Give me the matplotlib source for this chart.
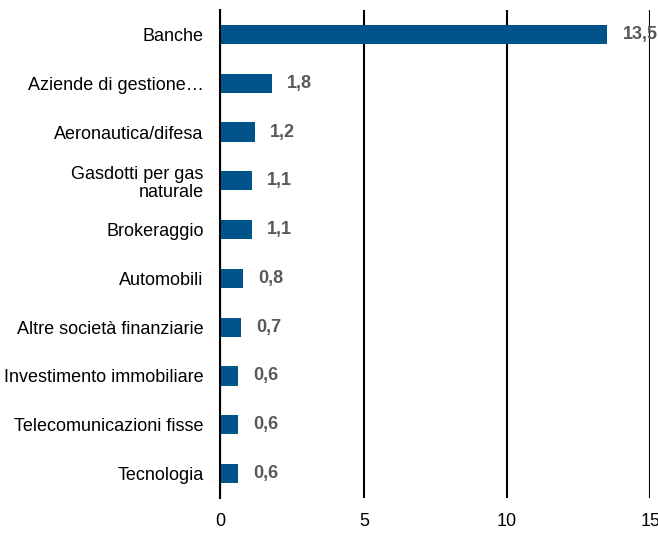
import matplotlib.pyplot as plt

# Data
categories = [
    "Banche",
    "Aziende di gestione…",
    "Aeronautica/difesa",
    "Gasdotti per gas\nnaturale",
    "Brokeraggio",
    "Automobili",
    "Altre società finanziarie",
    "Investimento immobiliare",
    "Telecomunicazioni fisse",
    "Tecnologia",
]
values = [13.5, 1.8, 1.2, 1.1, 1.1, 0.8, 0.7, 0.6, 0.6, 0.6]
labels = ["13,5", "1,8", "1,2", "1,1", "1,1", "0,8", "0,7", "0,6", "0,6", "0,6"]
xticks = [0, 5, 10, 15]

plt.rcParams['font.family'] = ['Liberation Sans', 'DejaVu Sans']

fig = plt.figure(figsize=(6.58, 5.33), dpi=100)
ax = fig.add_axes([0.3351, 0.0657, 0.6535, 0.9155])

y = list(range(len(categories)))
ax.barh(y, values, height=0.39, color='#00548A', zorder=3)

for yi, v, lab in zip(y, values, labels):
    ax.annotate(lab, (v, yi), xytext=(11, 0), textcoords='offset points',
                va='center', ha='left', fontsize=13, fontweight='bold',
                color='#595959', zorder=4)

ax.set_xlim(0, 15)
ax.set_ylim(len(categories) - 0.5, -0.5)
ax.set_yticks(y)
ax.set_yticklabels(categories, fontsize=13, linespacing=1.1)
ax.set_xticks(xticks)
ax.set_xticklabels([str(t) for t in xticks], fontsize=13)
ax.tick_params(axis='both', length=0)
ax.tick_params(axis='x', pad=11)
ax.tick_params(axis='y', pad=12)

ax.grid(axis='x', color='black', linewidth=1.5, zorder=1)
for s in ['top', 'right', 'bottom']:
    ax.spines[s].set_visible(False)
ax.spines['left'].set_linewidth(1.5)
ax.spines['left'].set_zorder(5)

fig.savefig('out.png', dpi=100)
